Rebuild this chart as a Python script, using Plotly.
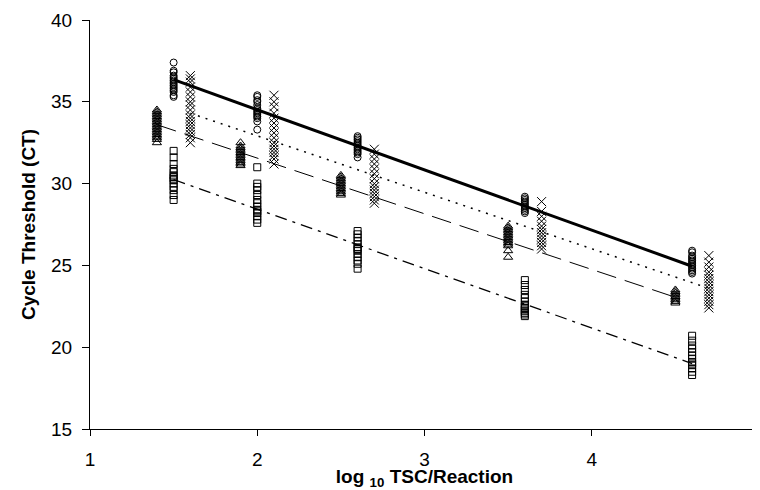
import plotly.graph_objects as go

# log10 TSC/Reaction positions (series offset for visibility)
x_circle = [1.5, 2.0, 2.6, 3.6, 4.6]
x_cross = [1.6, 2.1, 2.7, 3.7, 4.7]
x_tri = [1.4, 1.9, 2.5, 3.5, 4.5]
x_square = [1.5, 2.0, 2.6, 3.6, 4.6]

# Replicate CT values per dilution
ct_circle = [
    [37.4, 36.9, 36.8, 36.6, 36.5, 36.4, 36.3, 36.2, 36.1, 36.0, 35.9, 35.8, 35.7, 35.6, 35.4, 35.3],
    [35.4, 35.3, 35.1, 35.0, 34.8, 34.6, 34.5, 34.4, 34.3, 34.2, 34.1, 34.0, 33.8, 33.3],
    [32.9, 32.8, 32.7, 32.6, 32.5, 32.4, 32.3, 32.2, 32.1, 32.0, 31.9, 31.8, 31.6],
    [29.2, 29.1, 29.0, 28.9, 28.8, 28.7, 28.6, 28.5, 28.4, 28.3, 28.2],
    [25.9, 25.8, 25.6, 25.5, 25.4, 25.3, 25.2, 25.1, 25.0, 24.9, 24.8, 24.7, 24.6, 24.5],
]
ct_cross = [
    [36.6, 36.4, 36.2, 35.9, 35.6, 35.3, 35.0, 34.8, 34.5, 34.2, 34.0, 33.8, 33.6, 33.4, 33.2, 33.0, 32.8, 32.5],
    [35.4, 35.0, 34.7, 34.3, 34.0, 33.7, 33.4, 33.1, 32.8, 32.5, 32.3, 32.1, 31.9, 31.7, 31.5, 31.2],
    [32.1, 31.8, 31.5, 31.2, 30.9, 30.6, 30.3, 30.0, 29.8, 29.6, 29.4, 29.2, 29.0, 28.8],
    [28.9, 28.3, 28.0, 27.7, 27.4, 27.2, 27.0, 26.8, 26.6, 26.4, 26.2, 26.0],
    [25.6, 25.2, 24.9, 24.6, 24.4, 24.2, 24.0, 23.8, 23.6, 23.4, 23.2, 23.0, 22.8, 22.6, 22.4],
]
ct_tri = [
    [34.5, 34.4, 34.3, 34.2, 34.1, 34.0, 33.9, 33.8, 33.7, 33.6, 33.5, 33.4, 33.3, 33.2, 33.1, 33.0, 32.9, 32.8, 32.7, 32.5],
    [32.5, 32.3, 32.2, 32.1, 32.0, 31.9, 31.8, 31.7, 31.6, 31.5, 31.4, 31.3, 31.2, 31.1],
    [30.5, 30.4, 30.3, 30.2, 30.1, 30.0, 29.9, 29.8, 29.7, 29.6, 29.5, 29.4, 29.3],
    [27.4, 27.3, 27.2, 27.1, 27.0, 26.9, 26.8, 26.7, 26.6, 26.5, 26.4, 26.3, 26.2, 25.9, 25.5],
    [23.5, 23.4, 23.3, 23.2, 23.1, 23.0, 22.9, 22.8, 22.7],
]
ct_square = [
    [32.0, 31.6, 31.2, 30.9, 30.7, 30.5, 30.4, 30.3, 30.2, 30.0, 29.8, 29.6, 29.3, 29.0],
    [31.0, 30.0, 29.8, 29.6, 29.3, 29.0, 28.8, 28.6, 28.4, 28.3, 28.2, 28.0, 27.8, 27.6],
    [27.1, 26.9, 26.7, 26.5, 26.3, 26.1, 26.0, 25.9, 25.7, 25.5, 25.3, 25.1, 24.8],
    [24.1, 23.8, 23.5, 23.2, 23.0, 22.8, 22.6, 22.5, 22.4, 22.3, 22.2, 22.1, 22.0, 21.9],
    [20.7, 20.4, 20.1, 19.9, 19.7, 19.5, 19.3, 19.1, 19.0, 18.9, 18.7, 18.5, 18.3],
]

# Regression trend line endpoints
trend_circle_x, trend_circle_y = [1.5, 4.6], [36.35, 24.95]
trend_cross_x, trend_cross_y = [1.6, 4.7], [34.3, 23.6]
trend_tri_x, trend_tri_y = [1.4, 4.5], [33.6, 23.05]
trend_square_x, trend_square_y = [1.5, 4.6], [30.25, 19.0]

x_ticks = [1, 2, 3, 4, 5]
y_ticks = [15, 20, 25, 30, 35, 40]

FONT = "Liberation Sans, Arial, sans-serif"

fig = go.Figure()

def add_points(xs, groups, symbol, size):
    px, py = [], []
    for xv, vals in zip(xs, groups):
        for v in vals:
            px.append(xv)
            py.append(v)
    fig.add_trace(go.Scatter(
        x=px, y=py, mode="markers", showlegend=False, cliponaxis=False,
        marker=dict(symbol=symbol, size=size, color="black",
                    line=dict(color="black", width=1)),
    ))

def add_line(xs, ys, width, dash):
    fig.add_trace(go.Scatter(
        x=xs, y=ys, mode="lines", showlegend=False,
        line=dict(color="black", width=width, dash=dash),
    ))

add_line(trend_circle_x, trend_circle_y, 3, "solid")
add_line(trend_cross_x, trend_cross_y, 1.5, "2px,6px")
add_line(trend_tri_x, trend_tri_y, 1, "20px,9px")
add_line(trend_square_x, trend_square_y, 1.3, "12px,6px,3px,6px")

add_points(x_tri, ct_tri, "triangle-up-open", 8)
add_points(x_circle, ct_circle, "circle-open", 7)
add_points(x_square, ct_square, "square-open", 7)
add_points(x_cross, ct_cross, "x-thin-open", 9)

fig.update_layout(
    width=752, height=482,
    margin=dict(l=82, r=1, t=12, b=61),
    paper_bgcolor="white", plot_bgcolor="white",
    font=dict(family=FONT, size=19, color="black"),
    xaxis=dict(
        range=[1, 5], tickvals=x_ticks, ticktext=[str(t) for t in x_ticks],
        automargin=False, ticklabeloverflow="allow",
        showgrid=False, zeroline=False, showline=True, linecolor="black", linewidth=1,
        ticks="outside", ticklen=6, tickcolor="black", ticklabelstandoff=7,
        tickfont=dict(size=19, family=FONT),
        title=dict(text="<b>log <sub>10</sub> TSC/Reaction</b>", font=dict(size=19, family=FONT), standoff=0),
    ),
    yaxis=dict(
        range=[15, 40], tickvals=y_ticks, ticktext=[str(t) for t in y_ticks],
        automargin=False,
        showgrid=False, zeroline=False, showline=True, linecolor="black", linewidth=1,
        ticks="outside", ticklen=7, tickcolor="black", ticklabelstandoff=6,
        tickfont=dict(size=19, family=FONT),
        title=dict(text="<b>Cycle Threshold (CT)</b>", font=dict(size=19, family=FONT), standoff=10),
    ),
)

fig.write_html("out.html")
